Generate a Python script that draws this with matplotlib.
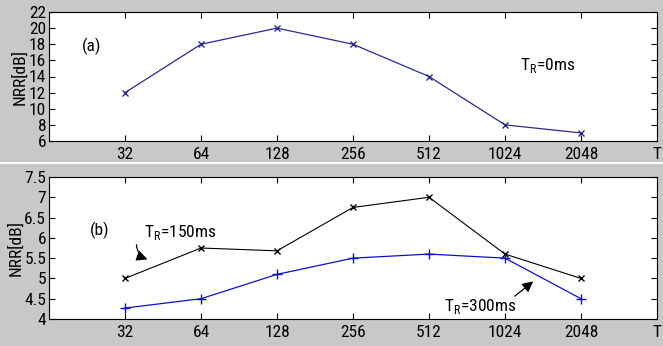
import matplotlib
matplotlib.use('Agg')
import matplotlib.pyplot as plt
from matplotlib.lines import Line2D

plt.rcParams['font.family'] = ['Roboto Condensed', 'Liberation Sans', 'DejaVu Sans']

# frame sizes (x axis categories)
frame_sizes = ['32', '64', '128', '256', '512', '1024', '2048']
# (a) T_R = 0 ms
nrr_0ms = [12, 18, 20, 18, 14, 8, 7]
# (b) T_R = 150 ms and 300 ms
nrr_150ms = [5.0, 5.75, 5.68, 6.75, 7.0, 5.6, 5.0]
nrr_300ms = [4.27, 4.5, 5.1, 5.5, 5.6, 5.5, 4.5]

W, H = 663, 346
fig = plt.figure(figsize=(W / 100, H / 100), dpi=100, facecolor='#c8c8c8')

def px_axes(left, top, right, bottom):
    return fig.add_axes([left / W, 1 - bottom / H, (right - left) / W, (bottom - top) / H])

xs = list(range(1, len(frame_sizes) + 1))
fs = 12.5

def style(ax, ylim, yticks):
    ax.set_xlim(0, 8)
    ax.set_ylim(*ylim)
    ax.set_xticks(xs)
    ax.set_xticklabels(frame_sizes)
    ax.set_yticks(yticks)
    ax.tick_params(direction='in', top=True, right=True, labelsize=fs, length=4, width=0.8, pad=4)
    ax.tick_params(axis='y', pad=2)
    ax.set_facecolor('white')
    for s in ax.spines.values():
        s.set_linewidth(0.8)
    ax.set_ylabel('NRR[dB]', fontsize=fs, labelpad=1)
    ax.text(8, ylim[0] - (ylim[1] - ylim[0]) * 0.045, 'T', fontsize=fs, ha='center', va='top',
            clip_on=False)

ax1 = px_axes(49, 12, 657, 141)
ax1.plot(xs, nrr_0ms, color='#2b2b8c', marker='x', markersize=4, linewidth=0.9)
style(ax1, (6, 22), range(6, 23, 2))
ax1.set_yticklabels([str(v) for v in range(6, 23, 2)])
ax1.text(0.56, 17.7, '(a)', fontsize=fs, ha='center', va='center')
ax1.text(6.2, 15.4, r'T$_\mathregular{R}$=0ms', fontsize=fs, ha='left', va='center')

ax2 = px_axes(49, 177, 657, 319)
ax2.plot(xs, nrr_150ms, color='black', marker='x', markersize=4, linewidth=0.8)
ax2.plot(xs, nrr_300ms, color='#1010c8', marker='+', markersize=7, linewidth=0.9)
yt = [4, 4.5, 5, 5.5, 6, 6.5, 7, 7.5]
style(ax2, (4, 7.5), yt)
ax2.set_yticklabels(['4', '4.5', '5', '5.5', '6', '6.5', '7', '7.5'])
ax2.text(0.67, 6.19, '(b)', fontsize=fs, ha='center', va='center')
ax2.text(1.25, 6.14, r'T$_\mathregular{R}$=150ms', fontsize=fs, ha='left', va='center')
ax2.annotate('', xy=(1.33, 5.45), xytext=(1.15, 5.9),
             arrowprops=dict(arrowstyle='-|>', color='black', lw=0.9,
                             connectionstyle='arc3,rad=0.4', mutation_scale=16))
ax2.text(5.2, 4.3, r'T$_\mathregular{R}$=300ms', fontsize=fs, ha='left', va='center')
ax2.annotate('', xy=(6.4, 4.97), xytext=(6.1, 4.52),
             arrowprops=dict(arrowstyle='-|>', color='black', lw=0.9, mutation_scale=16))

# white seam between the two panels
fig.add_artist(Line2D([0, 1], [1 - 163 / H, 1 - 163 / H], transform=fig.transFigure,
                      color='white', linewidth=1.5))

fig.savefig('out.png', dpi=100, facecolor=fig.get_facecolor())
